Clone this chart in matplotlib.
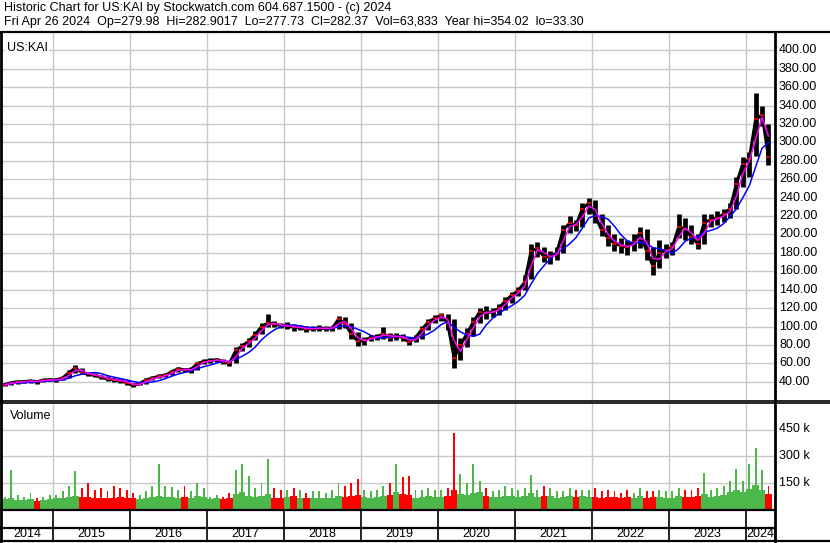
"""Historic price chart for US:KAI in the Stockwatch style."""

import matplotlib.pyplot as plt
import numpy as np
import pandas as pd
from matplotlib.lines import Line2D

plt.rcParams["font.family"] = ["Liberation Sans", "DejaVu Sans"]

W, H = 830, 543

title_line1 = "Historic Chart for US:KAI by Stockwatch.com 604.687.1500 - (c) 2024"
title_line2 = ("Fri Apr 26 2024  Op=279.98  Hi=282.9017  Lo=277.73  Cl=282.37  "
               "Vol=63,833  Year hi=354.02  lo=33.30")
symbol = "US:KAI"

# monthly bars, May 2014 .. Apr 2024
close = [
    37, 39, 40, 40, 41, 40, 42, 42,
    42, 44, 50, 55, 50, 48, 47, 45, 43, 42, 41, 39,
    36, 38, 42, 44, 46, 47, 51, 54, 53, 53, 60, 62,
    63, 64, 62, 60, 74, 79, 84, 91, 100, 104, 103, 101,
    101, 99, 99, 97, 98, 98, 98, 98, 108, 103, 92, 84,
    85, 88, 89, 92, 88, 90, 88, 83, 88, 97, 105, 109,
    112, 104, 66, 80, 92, 105, 116, 115, 116, 120, 128, 134,
    139, 148, 182, 185, 176, 176, 180, 205, 212, 210, 228, 234,
    220, 205, 196, 190, 188, 186, 192, 202, 182, 166, 180, 183,
    186, 208, 206, 197, 190, 213, 216, 218, 222, 228, 255, 277,
    282, 325, 330, 284,
]
high = [
    39, 40, 41, 42, 42, 42, 43, 44,
    44, 46, 53, 58, 55, 50, 49, 47, 46, 44, 43, 42,
    39, 40, 44, 46, 48, 50, 53, 56, 55, 56, 62, 65,
    66, 66, 65, 63, 78, 82, 88, 95, 104, 114, 106, 104,
    105, 103, 102, 101, 101, 102, 101, 101, 111, 110, 104, 94,
    89, 91, 92, 100, 93, 93, 92, 89, 91, 101, 108, 112,
    115, 114, 108, 88, 98, 110, 120, 122, 120, 124, 132, 138,
    143, 156, 190, 192, 186, 182, 186, 210, 220, 216, 234, 240,
    238, 222, 210, 200, 196, 194, 200, 208, 206, 186, 194, 190,
    192, 222, 218, 210, 200, 222, 222, 226, 228, 234, 262, 284,
    290, 354, 340, 320,
]
low = [
    35, 37, 38, 39, 39, 38, 40, 41,
    40, 42, 44, 49, 48, 46, 45, 43, 41, 40, 39, 36,
    34, 36, 38, 42, 44, 45, 47, 51, 51, 50, 53, 59,
    60, 61, 59, 57, 60, 73, 78, 85, 92, 99, 99, 98,
    97, 95, 96, 94, 95, 95, 95, 95, 97, 98, 86, 79,
    80, 84, 85, 87, 84, 85, 84, 80, 83, 86, 96, 104,
    106, 96, 55, 64, 78, 90, 104, 108, 110, 113, 118, 126,
    133, 140, 152, 176, 170, 168, 172, 180, 202, 204, 208, 222,
    212, 198, 188, 182, 180, 178, 182, 185, 172, 156, 164, 174,
    178, 196, 194, 190, 184, 190, 208, 210, 214, 218, 228, 252,
    262, 285, 318, 276,
]
# typical and peak daily volume in each month (thousands)
vol_typ = [
    55, 60, 50, 50, 55, 45, 50, 55,
    60, 60, 70, 75, 70, 70, 65, 65, 60, 65, 70, 65,
    60, 55, 60, 70, 75, 70, 70, 65, 70, 65, 75, 70,
    55, 60, 55, 60, 85, 95, 75, 70, 75, 85, 65, 65,
    70, 75, 65, 60, 60, 65, 60, 65, 75, 70, 75, 80,
    70, 65, 70, 75, 80, 95, 85, 80, 65, 70, 75, 70,
    70, 75, 105, 85, 80, 90, 95, 75, 70, 70, 75, 75,
    70, 75, 90, 70, 75, 75, 65, 70, 75, 70, 75, 70,
    70, 65, 70, 70, 65, 70, 60, 75, 65, 70, 70, 65,
    65, 75, 70, 70, 75, 85, 70, 75, 80, 95, 105, 95,
    115, 135, 105, 85,
]
vol_peak = [
    70, 222, 80, 70, 90, 60, 70, 80,
    80, 100, 130, 217, 120, 150, 110, 120, 100, 130, 120, 110,
    90, 80, 100, 130, 254, 130, 125, 110, 130, 100, 145, 120,
    70, 80, 70, 90, 222, 254, 189, 120, 150, 285, 120, 110,
    110, 120, 110, 90, 100, 100, 90, 110, 150, 130, 150, 170,
    110, 100, 110, 130, 150, 256, 180, 184, 110, 110, 120, 110,
    110, 120, 432, 198, 150, 255, 160, 120, 100, 110, 130, 120,
    110, 120, 192, 110, 132, 120, 100, 100, 120, 110, 110, 110,
    120, 100, 110, 100, 90, 110, 90, 120, 100, 100, 110, 100,
    100, 120, 110, 110, 120, 205, 110, 120, 130, 160, 226, 160,
    255, 347, 221, 132,
]

price_ticks = list(range(40, 401, 20))
vol_ticks = [150, 300, 450]
year_labels = list(range(2014, 2025))

months = pd.period_range("2014-05", periods=len(close), freq="M")
x = np.array([p.year + (p.month - 0.5) / 12 for p in months])
close_s = pd.Series(close, dtype=float)
ma_fast = close_s.rolling(2, min_periods=1).mean()
ma_slow = close_s.rolling(5, min_periods=1).mean()
up = np.r_[True, np.diff(close) >= 0]
bar_colors = np.where(up, "#4cb84c", "#ff0000")

# layout in pixels
X0, X1 = 2, 774
XMIN, XMAX = 2015 - 51 / 77.06, 2024 + 28 / 77.06
GRID = "#c8c8c8"
YMIN, YMAX = 20.2, 418.9

fig = plt.figure(figsize=(W / 100, H / 100), dpi=100)


def px_axes(left, top, right, bottom):
    ax = fig.add_axes([left / W, 1 - bottom / H, (right - left) / W, (bottom - top) / H])
    for s in ax.spines.values():
        s.set_visible(False)
    ax.tick_params(length=0, labelleft=False, labelbottom=False)
    return ax


def fig_line(xs, ys, lw=1.5, color="black"):
    fig.add_artist(Line2D([v / W for v in xs], [1 - v / H for v in ys],
                          transform=fig.transFigure, color=color, lw=lw))


def year_to_px(yr):
    return X0 + (yr - XMIN) / (XMAX - XMIN) * (X1 - X0)


# price panel
ax = px_axes(X0, 33, X1, 400)
ax.set_xlim(XMIN, XMAX)
ax.set_ylim(YMIN, YMAX)
ax.set_yticks(price_ticks)
ax.set_xticks(year_labels[1:])
ax.grid(True, color=GRID, lw=1)
ax.set_axisbelow(True)
ax.vlines(x, low, high, color="black", lw=3.4)
ax.plot(x, close, color="black", lw=2.2)
ax.plot(x, close, ls="none", marker="_", ms=2.5, mew=1.2, color="#ff0000")
ax.plot(x, ma_slow, color="#0000ff", lw=1.1)
ax.plot(x, ma_fast, color="#ff00ff", lw=1.1)
ax.text(0.006, 0.975, symbol, transform=ax.transAxes, fontsize=9, va="top",
        bbox=dict(facecolor="white", edgecolor="none", pad=1))

# volume panel
axv = px_axes(X0, 403, X1, 509)
axv.set_xlim(XMIN, XMAX)
axv.set_ylim(0, 600)
axv.set_yticks(vol_ticks)
axv.set_xticks(year_labels[1:])
axv.grid(True, color=GRID, lw=1)
axv.set_axisbelow(True)
axv.bar(x, vol_typ, width=1 / 12, color=bar_colors, linewidth=0)
axv.bar(x, vol_peak, width=0.3 / 12, color=bar_colors, linewidth=0)
axv.text(0.01, 0.93, "Volume", transform=axv.transAxes, fontsize=9, va="top")

# titles
fig.text(4 / W, 1 - 8 / H, title_line1, fontsize=9, va="center")
fig.text(4 / W, 1 - 22 / H, title_line2, fontsize=9, va="center")

# right labels
for v in price_ticks:
    ypx = 33 + (YMAX - v) / (YMAX - YMIN) * (400 - 33)
    fig.text(779 / W, 1 - ypx / H, f"{v:.2f}", fontsize=9, va="center")
for v in vol_ticks:
    ypx = 509 - v / 600 * (509 - 403)
    fig.text(779 / W, 1 - ypx / H, f"{v} k", fontsize=9, va="center")

# frame lines
fig_line([0, W], [32, 32], lw=1.6)
fig_line([0, W], [400.5, 400.5], lw=1.2)
fig_line([0, W], [402.5, 402.5], lw=1.2)
fig_line([0, X1], [509.5, 509.5], lw=1.6)
fig_line([0, X1], [527.5, 527.5], lw=1.6)
fig_line([0, W], [541, 541], lw=1.6)
fig_line([1, 1], [32, 541], lw=2)
fig_line([X1 + 0.5, X1 + 0.5], [32, 541], lw=2)

# year band
bounds = [X0] + [year_to_px(y) for y in year_labels[1:]] + [X1]
for b in bounds[1:-1]:
    fig_line([b, b], [509.5, 541], lw=1.2)
for yr, a, b in zip(year_labels, bounds[:-1], bounds[1:]):
    fig.text((a + b) / 2 / W, 1 - 534 / H, str(yr), fontsize=9, ha="center", va="center")

fig.savefig("out.png", dpi=100)
